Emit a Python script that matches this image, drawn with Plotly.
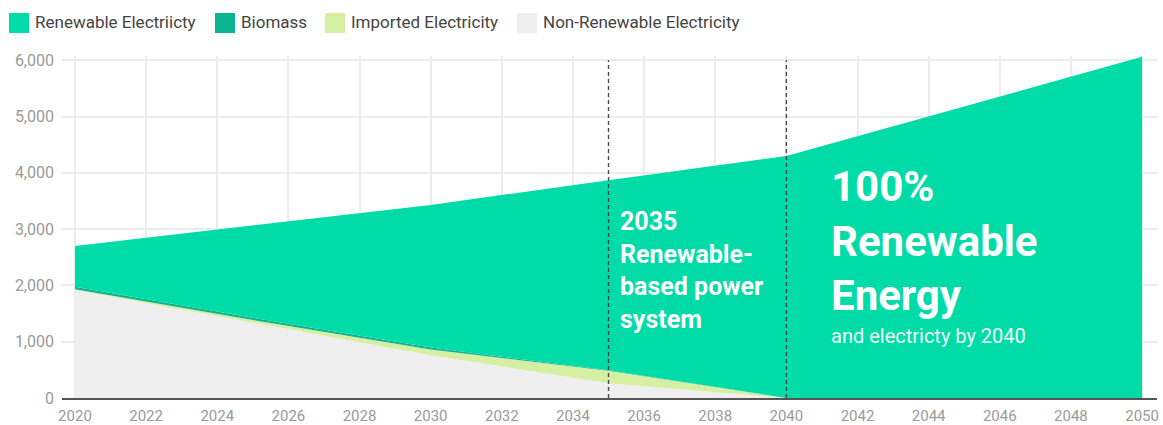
import plotly.graph_objects as go

# Electricity supply pathway (GWh), stacked by source
years = [2020, 2025, 2030, 2035, 2040, 2045, 2050]
non_renewable = [1920, 1340, 760, 260, 0, 0, 0]
imported = [10, 45, 100, 225, 0, 0, 0]
biomass = [45, 40, 35, 10, 0, 0, 0]
renewable = [725, 1640, 2535, 3375, 4300, 5180, 6060]

series_names = ["Non-Renewable Electricity", "Imported Electricity", "Biomass", "Renewable Electriicty"]
series_colors = ["#efefef", "#d5f0a2", "#0cb48f", "#00dba7"]
milestone_years = [2035, 2040]

W, H = 1163, 425
ML, MR, MT, MB = 62, 6, 56, 27
PW, PH = W - ML - MR, H - MT - MB


def px_x(px):
    return (px - ML) / PW


def px_y(py):
    return (H - MB - py) / PH


fig = go.Figure()
for name, vals, col in zip(series_names, [non_renewable, imported, biomass, renewable], series_colors):
    fig.add_trace(go.Scatter(
        x=years, y=vals, name=name, mode="lines", stackgroup="one",
        line=dict(width=0, color=col), fillcolor=col, showlegend=False,
    ))

# dashed milestone markers
for yr in milestone_years:
    fig.add_shape(type="line", xref="x", yref="y", x0=yr, x1=yr, y0=0, y1=6000,
                  line=dict(color="#4a4a4a", width=1.4, dash="4px,3px"), layer="above")

# legend swatches drawn across the top
legend_items = [
    ("Renewable Electriicty", "#00dba7", 9),
    ("Biomass", "#0cb48f", 215),
    ("Imported Electricity", "#d5f0a2", 325),
    ("Non-Renewable Electricity", "#efefef", 517),
]
for label, col, x0 in legend_items:
    fig.add_shape(type="rect", xref="paper", yref="paper",
                  x0=px_x(x0), x1=px_x(x0 + 20), y0=px_y(33), y1=px_y(13),
                  fillcolor=col, line=dict(width=0))
    fig.add_annotation(xref="paper", yref="paper", x=px_x(x0 + 24), y=px_y(22),
                       text=label, showarrow=False, xanchor="left", yanchor="middle",
                       font=dict(family="Roboto", size=17, color="#444444"))

fig.add_annotation(xref="x", yref="y", x=2035, xshift=9, y=2260,
                   text="<b>2035<br>Renewable-<br>based power<br>system</b>",
                   showarrow=False, xanchor="left", yanchor="middle", align="left",
                   font=dict(family="Roboto", size=25, color="white"))
fig.add_annotation(xref="x", yref="y", x=2040, xshift=43, y=2790,
                   text="<b>100%<br>Renewable<br>Energy</b>",
                   showarrow=False, xanchor="left", yanchor="middle", align="left",
                   font=dict(family="Roboto", size=42, color="white"))
fig.add_annotation(xref="x", yref="y", x=2040, xshift=43, y=1100,
                   text="and electricty by 2040",
                   showarrow=False, xanchor="left", yanchor="middle", align="left",
                   font=dict(family="Roboto", size=20, color="#effff9"))

fig.update_layout(
    width=W, height=H,
    margin=dict(l=ML, r=MR, t=MT, b=MB, pad=0, autoexpand=False),
    paper_bgcolor="white", plot_bgcolor="white",
    font=dict(family="Roboto"),
    hovermode=False,
)
fig.update_xaxes(
    range=[2019.635, 2050.42], tick0=2020, dtick=2, automargin=False,
    showgrid=True, gridcolor="#ebebeb", gridwidth=2,
    zeroline=False, showline=True, linecolor="#555555", linewidth=2,
    ticks="", ticklabelstandoff=3,
    tickfont=dict(family="Roboto", size=15, color="#9a9a9a"),
)
fig.update_yaxes(
    range=[0, 6075], tick0=0, dtick=1000, tickformat=",d", automargin=False,
    showgrid=True, gridcolor="#ebebeb", gridwidth=2,
    zeroline=False, showline=False, ticks="", ticklabelstandoff=7,
    tickfont=dict(family="Roboto", size=16, color="#9a9a9a"),
)

fig.write_html("out.html")
